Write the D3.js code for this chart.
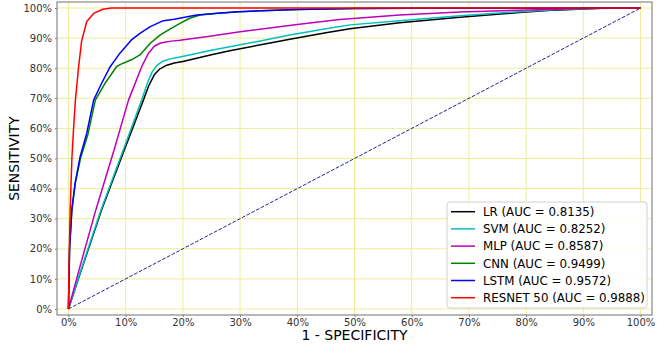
<!DOCTYPE html>
<html><head><meta charset="utf-8">
<script src="https://cdn.jsdelivr.net/npm/d3@7"></script>
<style>body{margin:0;background:#fff}svg{display:block;font-family:"DejaVu Sans",sans-serif}</style>
</head><body><svg id="c" width="670" height="347"></svg>
<script>
const ticks = [0,0.1,0.2,0.3,0.4,0.5,0.6,0.7,0.8,0.9,1];
const LR_fpr  = [0,0.02,0.058,0.1,0.131,0.14,0.15,0.16,0.172,0.185,0.2,0.25,0.282,0.35,0.387,0.45,0.492,0.579,0.684,0.788,0.85,0.93,1];
const LR_tpr  = [0,0.115,0.33,0.54,0.694,0.74,0.778,0.798,0.81,0.817,0.822,0.845,0.858,0.883,0.896,0.918,0.931,0.951,0.969,0.985,0.993,0.999,1];
const SVM_fpr = [0,0.02,0.057,0.1,0.128,0.137,0.146,0.155,0.166,0.178,0.195,0.25,0.282,0.35,0.387,0.45,0.492,0.579,0.684,0.788,0.85,0.93,1];
const SVM_tpr = [0,0.118,0.33,0.55,0.694,0.745,0.787,0.81,0.824,0.831,0.837,0.86,0.871,0.896,0.91,0.931,0.944,0.958,0.974,0.988,0.994,0.999,1];
const MLP_fpr = [0,0.02,0.048,0.08,0.105,0.128,0.14,0.15,0.16,0.17,0.18,0.195,0.25,0.3,0.4,0.474,0.579,0.684,0.788,0.9,1];
const MLP_tpr = [0,0.14,0.33,0.53,0.694,0.805,0.85,0.873,0.883,0.887,0.89,0.893,0.907,0.921,0.945,0.962,0.977,0.987,0.993,0.998,1];
const CNN_fpr = [0,0.002,0.006,0.012,0.021,0.034,0.047,0.064,0.084,0.09,0.11,0.125,0.143,0.16,0.178,0.195,0.212,0.23,0.26,0.294,0.35,0.4,0.5,0.6,1];
const CNN_tpr = [0,0.2,0.33,0.418,0.5,0.58,0.694,0.75,0.805,0.812,0.828,0.844,0.883,0.91,0.931,0.949,0.966,0.977,0.983,0.987,0.992,0.995,0.998,0.999,1];
const LSTM_fpr = [0,0.002,0.006,0.0117,0.0204,0.032,0.044,0.058,0.073,0.09,0.11,0.125,0.143,0.166,0.185,0.224,0.294,0.4,0.5,0.6,1];
const LSTM_tpr = [0,0.2,0.33,0.418,0.506,0.584,0.694,0.75,0.805,0.85,0.894,0.916,0.938,0.958,0.963,0.977,0.988,0.995,0.998,0.999,1];
const RES_fpr = [0,0.001,0.003,0.006,0.009,0.012,0.0175,0.023,0.032,0.044,0.06,0.075,1];
const RES_tpr = [0,0.15,0.33,0.5,0.6,0.69,0.8,0.89,0.955,0.982,0.996,1,1];
const labels = ["LR (AUC = 0.8135)","SVM (AUC = 0.8252)","MLP (AUC = 0.8587)","CNN (AUC = 0.9499)","LSTM (AUC = 0.9572)","RESNET 50 (AUC = 0.9888)"];
const colors = ["#000000","#00bfbf","#bf00bf","#008000","#0000ff","#ff0000"];
const series = [[LR_fpr,LR_tpr],[SVM_fpr,SVM_tpr],[MLP_fpr,MLP_tpr],[CNN_fpr,CNN_tpr],[LSTM_fpr,LSTM_tpr],[RES_fpr,RES_tpr]];

const svg = d3.select("#c");
const L=57,R=652,T=2,B=315;
const x = d3.scaleLinear().domain([-0.02,1.02]).range([L,R]);
const y = d3.scaleLinear().domain([-0.02,1.02]).range([B,T]);
const pct = d3.format(".0%");

const g = svg.append("g");
g.selectAll(".gx").data(ticks).join("line").attr("x1",d=>x(d)).attr("x2",d=>x(d)).attr("y1",T).attr("y2",B)
 .attr("stroke","#eeee9a").attr("stroke-width",1);
g.selectAll(".gy").data(ticks).join("line").attr("y1",d=>y(d)).attr("y2",d=>y(d)).attr("x1",L).attr("x2",R)
 .attr("stroke","#eeee9a").attr("stroke-width",1);

const xa = svg.append("g").attr("transform",`translate(0,${B})`)
 .call(d3.axisBottom(x).tickValues(ticks).tickFormat(pct).tickSize(2).tickPadding(1.5));
const ya = svg.append("g").attr("transform",`translate(${L},0)`)
 .call(d3.axisLeft(y).tickValues(ticks).tickFormat(pct).tickSize(2).tickPadding(3));
[xa,ya].forEach(a=>{a.select(".domain").remove();
 a.selectAll("line").attr("stroke","#777");
 a.selectAll("text").attr("fill","#333").style("font-size","10px").style("font-family","DejaVu Sans");});

svg.append("line").attr("x1",x(0)).attr("y1",y(0)).attr("x2",x(1)).attr("y2",y(1))
 .attr("stroke","#22229a").attr("stroke-width",1).attr("stroke-dasharray","3.7,1.6");

const line = d3.line().x(d=>x(d[0])).y(d=>y(d[1]));
series.forEach((s,i)=>{
  const pts = s[0].map((v,j)=>[v,s[1][j]]);
  svg.append("path").attr("d",line(pts)).attr("fill","none").attr("stroke",colors[i]).attr("stroke-width",1.5).attr("stroke-linejoin","round");
});

svg.append("rect").attr("x",L).attr("y",T).attr("width",R-L).attr("height",B-T).attr("fill","none").attr("stroke","#888").attr("stroke-width",1.2);

svg.append("text").attr("x",(L+R)/2).attr("y",340).attr("text-anchor","middle").style("font-size","14px").text("1 - SPECIFICITY");
svg.append("text").attr("transform",`translate(19,${(T+B)/2}) rotate(-90)`).attr("text-anchor","middle").style("font-size","14px").text("SENSITIVITY");

const lg = svg.append("g");
lg.append("rect").attr("x",447).attr("y",202).attr("width",200).attr("height",106).attr("rx",3)
 .attr("fill","#fff").attr("fill-opacity",0.85).attr("stroke","#d0d0d0");
labels.forEach((t,i)=>{
  const yy = 211.7 + i*17.2;
  lg.append("line").attr("x1",451).attr("x2",475).attr("y1",yy).attr("y2",yy).attr("stroke",colors[i]).attr("stroke-width",1.5);
  lg.append("text").attr("x",483).attr("y",yy).attr("dy","0.36em").style("font-size","11.8px").text(t);
});
</script></body></html>
